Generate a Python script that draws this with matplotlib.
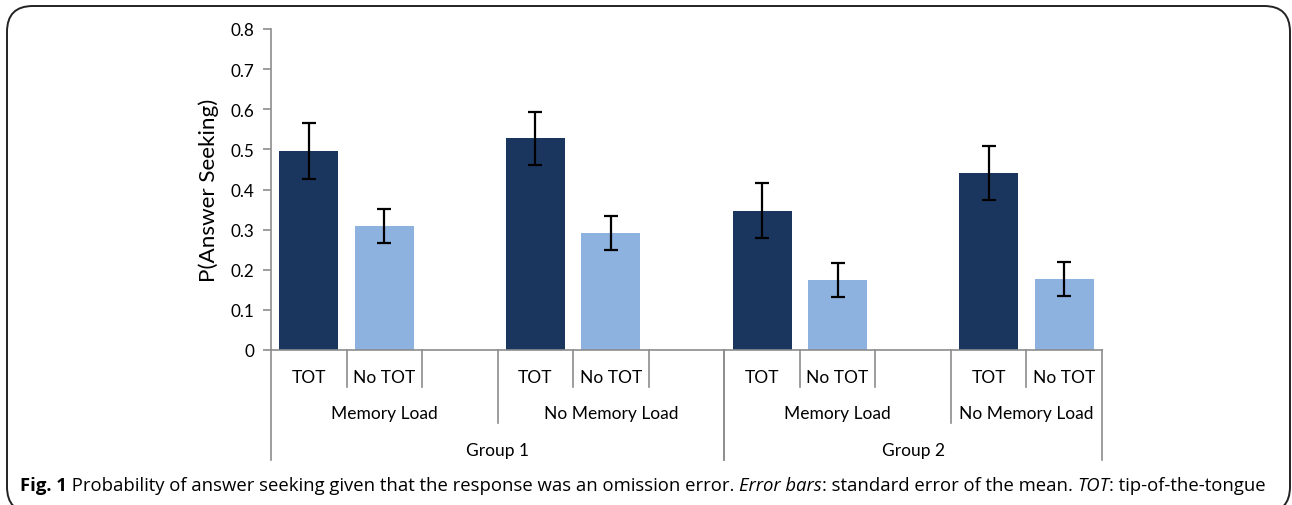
import matplotlib
matplotlib.use("Agg")
import matplotlib.pyplot as plt
from matplotlib.patches import FancyBboxPatch

# data
groups = ["Group 1", "Group 2"]
loads = ["Memory Load", "No Memory Load"]
conditions = ["TOT", "No TOT"]
means = [0.496, 0.309, 0.528, 0.292, 0.347, 0.175, 0.441, 0.177]
sems = [0.069, 0.043, 0.066, 0.043, 0.069, 0.043, 0.067, 0.043]
colors = ["#1a365e", "#8eb2e0"]

plt.rcParams["font.family"] = ["Lato", "DejaVu Sans"]

fig = plt.figure(figsize=(12.92, 5.06), dpi=100)
ax = fig.add_axes([271 / 1292, 1 - 351 / 506, (1102 - 271) / 1292, 321 / 506])

# slot layout: each load cell has the two conditions plus one empty slot,
# except the very last cell
cells = []
slot = 0
n_cells = len(groups) * len(loads)
for gi, g in enumerate(groups):
    for li, ld in enumerate(loads):
        width = len(conditions) + (0 if len(cells) == n_cells - 1 else 1)
        cells.append((gi, li, slot, width))
        slot += width
n_slots = slot

xs, heights, errs, cols = [], [], [], []
k = 0
for gi, li, start, width in cells:
    for ci in range(len(conditions)):
        xs.append(start + ci + 0.5)
        heights.append(means[k])
        errs.append(sems[k])
        cols.append(colors[ci])
        k += 1

ax.bar(xs, heights, width=0.78, color=cols, zorder=2)
ax.errorbar(xs, heights, yerr=errs, fmt="none", ecolor="black", elinewidth=1.6,
            capsize=5, capthick=1.6, zorder=3)

ax.set_xlim(0, n_slots)
ax.set_ylim(0, 0.8)
ax.set_yticks([i / 10 for i in range(9)])
ax.set_yticklabels(["0"] + [f"{i / 10:.1f}" for i in range(1, 9)], fontsize=12.3)
ax.set_xticks([])
for s in ["top", "right"]:
    ax.spines[s].set_visible(False)
for s in ["left", "bottom"]:
    ax.spines[s].set_color("#8c8c8c")
    ax.spines[s].set_linewidth(1.2)
ax.tick_params(axis="y", direction="out", length=6, color="#8c8c8c", width=1.2, pad=6)
ax.set_ylabel("P(Answer Seeking)", fontsize=16.2, labelpad=8)

# multi-level category axis
h = 321.0
lv1, lv2, lv3 = -37 / h, -73 / h, -110 / h
tr = ax.get_xaxis_transform()
line_kw = dict(color="#8c8c8c", lw=1.2, transform=tr, clip_on=False)

group_edges = {}
for gi, li, start, width in cells:
    for ci in range(1, width):
        ax.plot([start + ci] * 2, [0, lv1], **line_kw)
    for ci in range(len(conditions)):
        ax.text(start + ci + 0.5, -27 / h, conditions[ci], transform=tr,
                ha="center", va="center", fontsize=12.5)
    ax.text(start + width / 2, -63 / h, loads[li], transform=tr,
            ha="center", va="center", fontsize=12.5)
    group_edges.setdefault(gi, [start, start + width])
    group_edges[gi][1] = start + width
    if li > 0:
        ax.plot([start] * 2, [0, lv2], **line_kw)

for gi, (a, b) in group_edges.items():
    ax.plot([a] * 2, [0, lv3], **line_kw)
    ax.plot([b] * 2, [0, lv3], **line_kw)
    ax.text((a + b) / 2, -100 / h, groups[gi], transform=tr,
            ha="center", va="center", fontsize=12.5)

# rounded frame
frame = FancyBboxPatch((7 / 1292, -0.015), 1283 / 1292, 1 - 7 / 506 + 0.015,
                       boxstyle="round,pad=0,rounding_size=0.02",
                       transform=fig.transFigure, fill=False,
                       edgecolor="#222222", lw=1.4, mutation_aspect=1292 / 506)
fig.patches.append(frame)

# caption with mixed styles
pieces = [
    ("Fig. 1", "bold", "normal"),
    (" Probability of answer seeking given that the response was an omission error. ", "normal", "normal"),
    ("Error bars", "normal", "italic"),
    (": standard error of the mean. ", "normal", "normal"),
    ("TOT", "normal", "italic"),
    (": tip-of-the-tongue", "normal", "normal"),
]
renderer = fig.canvas.get_renderer()
x = 20
for txt, weight, style in pieces:
    t = fig.text(x / 1292, 1 - 486 / 506, txt, fontsize=13.3, weight=weight,
                 style=style, ha="left", va="center", family=["Open Sans", "DejaVu Sans"])
    bb = t.get_window_extent(renderer=renderer)
    x += bb.width

fig.savefig("out.png", dpi=100)
